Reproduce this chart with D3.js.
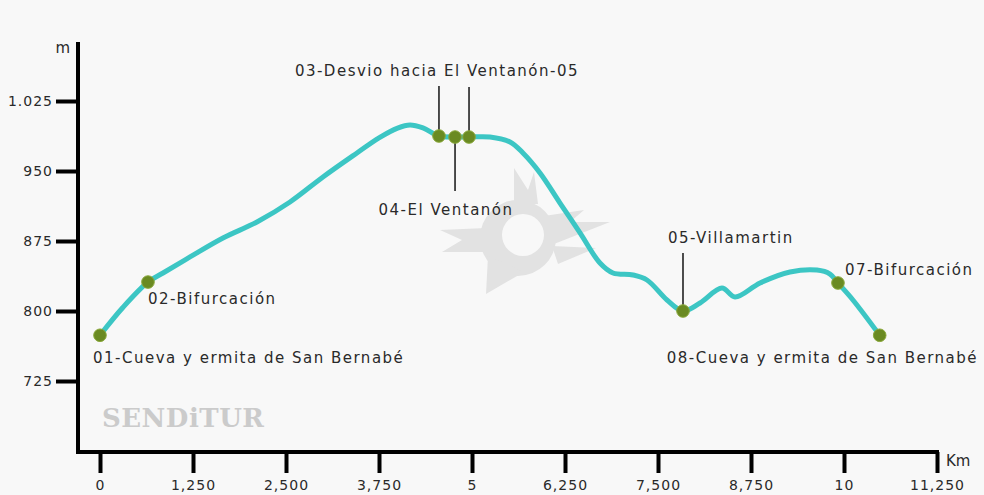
<!DOCTYPE html>
<html><head><meta charset="utf-8">
<script src="https://cdn.jsdelivr.net/npm/d3@7"></script>
<style>
html,body{margin:0;padding:0;background:#f8f8f8;}
svg{display:block;}
text{font-family:"DejaVu Sans",sans-serif;fill:#2a2a2a;}
</style></head><body>
<svg id="c" width="984" height="495"></svg>
<script>
// ---- data ----
const distKm = [0, 0.31, 0.645, 0.847, 1.21, 1.653, 2.11, 2.554, 2.997, 3.454, 3.75, 4.0, 4.167, 4.341, 4.556, 4.772, 4.96, 5.242, 5.511, 5.685, 5.914, 6.183, 6.452, 6.72, 6.895, 7.164, 7.352, 7.621, 7.836, 8.065, 8.36, 8.535, 8.871, 9.274, 9.637, 9.812, 9.919, 10.12, 10.48];
const elevM  = [774, 804, 831, 840.7, 857.9, 878.2, 895.4, 916.8, 943.6, 969.3, 985.5, 996, 999.3, 996.1, 987.5, 986.4, 986.4, 986.4, 981.1, 969.3, 947.9, 915.7, 883.6, 851.4, 840.7, 838.6, 833.2, 811.8, 800, 808.6, 824.6, 815, 830, 841.8, 843.9, 839.6, 830, 811.8, 774];

const wpKm = [0, 0.645, 4.556, 4.772, 4.96, 7.836, 9.919, 10.48];
const wpM  = [774, 831, 987.5, 986.4, 986.4, 800, 830, 774];

const xTickValues = [0, 1.25, 2.5, 3.75, 5, 6.25, 7.5, 8.75, 10, 11.25];
const xTickLabels = ["0", "1,250", "2,500", "3,750", "5", "6,250", "7,500", "8,750", "10", "11,250"];
const yTickValues = [725, 800, 875, 950, 1025];
const yTickLabels = ["725", "800", "875", "950", "1.025"];

const labelTexts = ["01-Cueva y ermita de San Bernabé", "02-Bifurcación", "03-Desvio hacia El Ventanón-05", "04-El Ventanón", "05-Villamartin", "07-Bifurcación", "08-Cueva y ermita de San Bernabé"];

// ---- layout ----
const svg = d3.select("#c");
const x = d3.scaleLinear().domain([0, 11.25]).range([100, 937]);
const y = d3.scaleLinear().domain([725, 1025]).range([381, 101]);
const axisLeft = 78, axisBottom = 452, axisTop = 42, axisRight = 939;

// watermark logo (decorative)
const circ = (cx, cy, r) => `M${cx - r},${cy} A${r},${r} 0 1,0 ${cx + r},${cy} A${r},${r} 0 1,0 ${cx - r},${cy} Z`;
const logo = svg.append("g").attr("transform", "translate(518,238)").attr("fill", "#e2e2e2");
logo.append("path").attr("fill-rule", "evenodd")
  .attr("d", circ(0, 0, 38) + " " + circ(5, -3, 21));
logo.append("path").attr("d","M-30,18 L-32,56 L6,34 Z");
logo.append("path").attr("d","M-4,-34 L-4,-70 L10,-48 L16,-66 L20,-34 Z");
logo.append("path").attr("d","M26,-22 L66,-28 L52,-16 L92,-16 L36,6 Z");
logo.append("path").attr("d","M34,8 L78,10 L40,26 Z");
logo.append("path").attr("d","M-32,-10 L-78,-8 L-56,2 L-76,14 L-34,14 Z");

// SENDiTUR watermark
svg.append("text").attr("x", 102).attr("y", 427)
  .style("font-family", "'DejaVu Serif',serif").style("font-weight", "bold")
  .style("font-size", "26px").style("fill", "#cbcbcb").style("letter-spacing","0.5px")
  .text("SENDiTUR");

// axes lines
svg.append("line").attr("x1", axisLeft).attr("x2", axisLeft).attr("y1", axisTop).attr("y2", axisBottom + 2)
  .attr("stroke", "#000").attr("stroke-width", 4);
svg.append("line").attr("x1", axisLeft - 2).attr("x2", axisRight).attr("y1", axisBottom).attr("y2", axisBottom)
  .attr("stroke", "#000").attr("stroke-width", 4);

// y axis via d3
const gy = svg.append("g").attr("transform", `translate(${axisLeft},0)`)
  .call(d3.axisLeft(y).tickValues(yTickValues).tickSize(22).tickPadding(3)
    .tickFormat((d, i) => yTickLabels[i]));
gy.select(".domain").remove();
gy.selectAll(".tick line").attr("stroke", "#000").attr("stroke-width", 4);
gy.selectAll(".tick text").style("font-size", "14px").style("letter-spacing", "1px").attr("fill", "#2a2a2a");

// x axis via d3
const gx = svg.append("g").attr("transform", `translate(0,${axisBottom})`)
  .call(d3.axisBottom(x).tickValues(xTickValues).tickSize(21).tickPadding(7)
    .tickFormat((d, i) => xTickLabels[i]));
gx.select(".domain").remove();
gx.selectAll(".tick line").attr("stroke", "#000").attr("stroke-width", 4);
gx.selectAll(".tick text").style("font-size", "14px").style("letter-spacing", "1px").attr("fill", "#2a2a2a");

// axis unit labels
svg.append("text").attr("x", 70).attr("y", 53).attr("text-anchor", "end").style("font-size", "15px").text("m");
svg.append("text").attr("x", 946).attr("y", 466).style("font-size", "15px").text("Km");

// profile line
const line = d3.line().x((d, i) => x(distKm[i])).y((d, i) => y(elevM[i])).curve(d3.curveCatmullRom.alpha(0.5));
svg.append("path").datum(elevM).attr("d", line).attr("fill", "none")
  .attr("stroke", "#3cc6c4").attr("stroke-width", 5).attr("stroke-linecap", "round");

// leader lines
const leaders = [[2, -50], [4, -50], [3, 54], [5, -58]];
leaders.forEach(([i, len]) => {
  svg.append("line").attr("x1", x(wpKm[i])).attr("x2", x(wpKm[i]))
    .attr("y1", y(wpM[i])).attr("y2", y(wpM[i]) + len)
    .attr("stroke", "#222").attr("stroke-width", 1.6);
});

// waypoints
svg.selectAll("circle.wp").data(wpKm).enter().append("circle").attr("class", "wp")
  .attr("cx", d => x(d)).attr("cy", (d, i) => y(wpM[i])).attr("r", 6.3)
  .attr("fill", "#6a8a22").attr("stroke", "#8aa83a").attr("stroke-width", 1);

// waypoint labels: [wp index, dx, dy, anchor]
const labelPos = [[0, -7, 28, "start"], [1, 0, 22, "start"], [2, -2, -60, "middle"], [3, -9, 78, "middle"],
                  [5, -15, -68, "start"], [6, 7, -8, "start"], [7, -213, 28, "start"]];
labelPos.forEach(([i, dx, dy, anchor], k) => {
  svg.append("text").attr("x", x(wpKm[i]) + dx).attr("y", y(wpM[i]) + dy)
    .attr("text-anchor", anchor).style("font-size", "15px").style("letter-spacing", "1.5px")
    .text(labelTexts[k]);
});
</script></body></html>
